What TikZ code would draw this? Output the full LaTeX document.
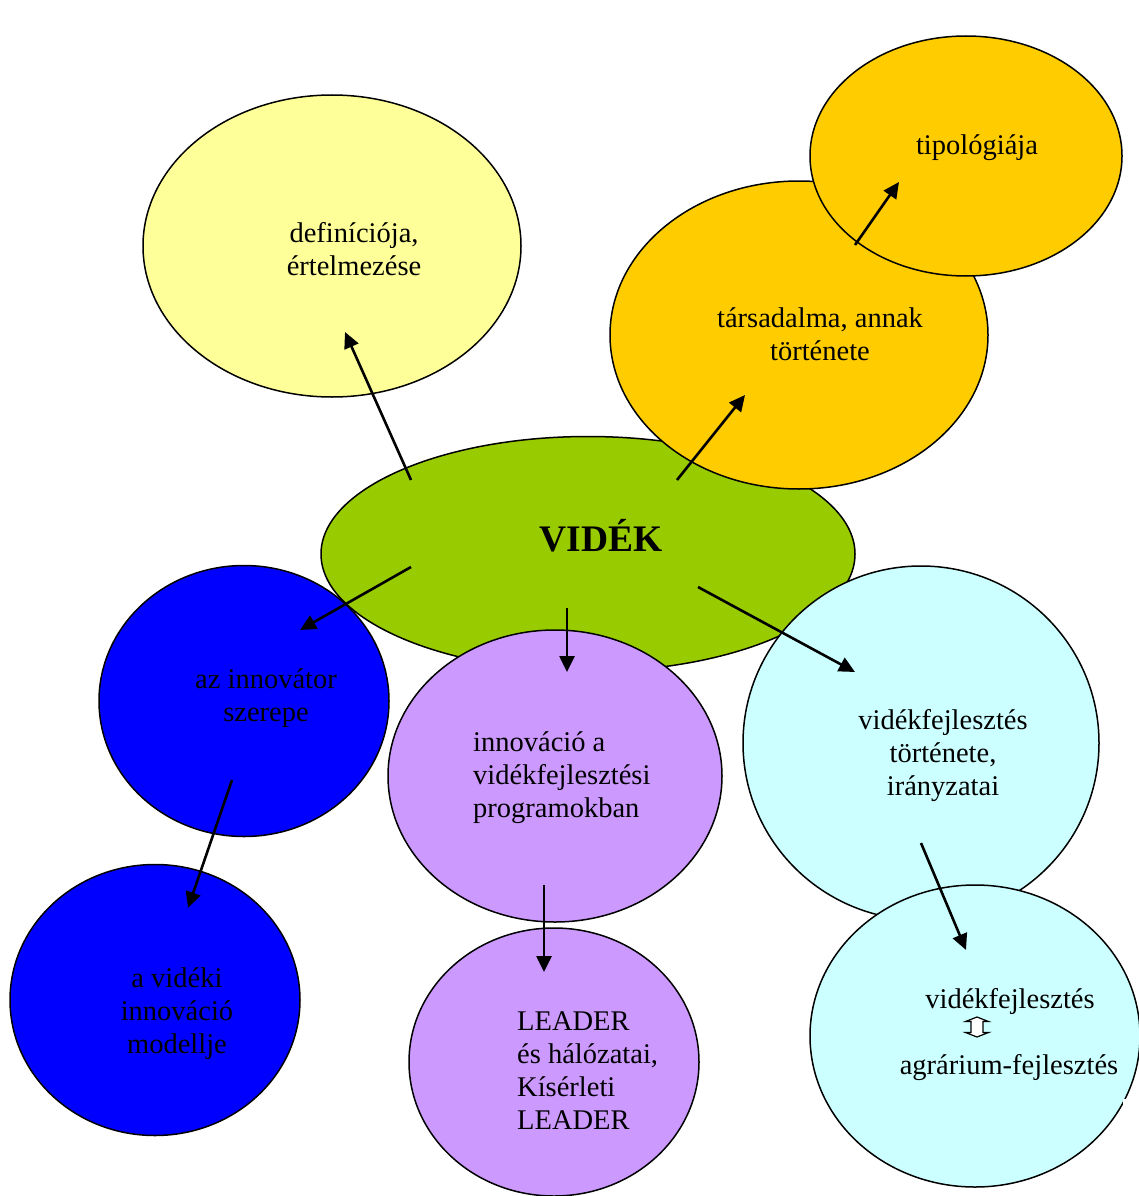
\documentclass[tikz,border=0pt]{standalone}
\usepackage{fontspec}
\setmainfont{Liberation Serif}
\usetikzlibrary{shapes.geometric,arrows.meta}
\definecolor{cyel}{HTML}{FFFF99}
\definecolor{corg}{HTML}{FFCC00}
\definecolor{cgrn}{HTML}{99CC00}
\definecolor{cblu}{HTML}{0000FF}
\definecolor{clil}{HTML}{CC99FF}
\definecolor{ccya}{HTML}{CCFFFF}
\tikzset{
  blob/.style={ellipse, draw=black, line width=1.5pt, inner sep=0pt},
  txt/.style={inner sep=0pt, font=\fontsize{28.5}{33}\selectfont, align=center},
  txtl/.style={inner sep=0pt, font=\fontsize{28.5}{33}\selectfont, align=left, anchor=west},
  conn/.style={line width=2.6pt, -{Triangle[length=16pt,width=15pt]}}
}
\begin{document}
\begin{tikzpicture}[x=1pt,y=-1pt]
\useasboundingbox (0,0) rectangle (1139,1196);
% ellipses
\node[blob, fill=cyel, minimum width=378pt, minimum height=302pt] (def) at (332,246) {};
\node[blob, fill=cgrn, minimum width=534pt, minimum height=235pt] (videk) at (588,554) {};
\node[blob, fill=corg, minimum width=378pt, minimum height=308pt] (tars) at (799,335) {};
\node[blob, fill=corg, minimum width=312pt, minimum height=240pt] (tipo) at (966,156) {};
\node[blob, fill=cblu, minimum width=290pt, minimum height=271pt] (innov) at (244,701) {};
\node[blob, fill=ccya, minimum width=356pt, minimum height=354pt] (tort) at (921,743) {};
\node[blob, fill=clil, minimum width=334pt, minimum height=292pt] (progr) at (555,776) {};
\node[blob, fill=cblu, minimum width=290pt, minimum height=271pt] (modell) at (155,1000) {};
\node[blob, fill=clil, minimum width=290pt, minimum height=268pt] (leader) at (554,1062) {};
\node[blob, fill=ccya, minimum width=330pt, minimum height=302pt] (agrar) at (975,1036) {};
\fill[white] (1123,1099) rectangle (1139,1123);
% texts
\node[txt] (tdef) at (354,249) {definíciója,\\értelmezése};
\node[txt] (ttipo) at (977,148) {tipológiája};
\node[txt] (ttars) at (820,334) {társadalma, annak\\története};
\node[txt, font=\bfseries\fontsize{37.5}{40}\selectfont] (tvidek) at (601,536) {VIDÉK};
\node[txt] (tinnov) at (266,698.5) {az innovátor\\szerepe};
\node[txt] (tmodell) at (177,1014) {a vidéki\\innováció\\modellje};
\node[txtl] (tprogr) at (473,778) {innováció a\\vidékfejlesztési\\programokban};
\node[txt] (ttort) at (943,756) {vidékfejlesztés\\története,\\irányzatai};
\node[txtl] (tleader) at (517,1071) {LEADER\\és hálózatai,\\Kísérleti\\LEADER};
\node[txt] (tagr1) at (1010,1001) {vidékfejlesztés};
\coordinate (dbl) at (977,1027);
\draw[line width=1.2pt, fill=white, line join=miter, shift={(dbl)}]
  (0,-10) -- (11.5,-5.5) -- (6,-5.5) -- (6,5.5) -- (11.5,5.5) -- (0,10)
  -- (-11.5,5.5) -- (-6,5.5) -- (-6,-5.5) -- (-11.5,-5.5) -- cycle;
\node[txt] (tagr2) at (1009,1068) {agrárium-fejlesztés};
% connector endpoints
\coordinate (a1s) at (411,480); \coordinate (a1e) at (345,332);
\coordinate (a2s) at (677,480); \coordinate (a2e) at (745,395);
\coordinate (a3s) at (855,245); \coordinate (a3e) at (899,182);
\coordinate (a4s) at (411,567); \coordinate (a4e) at (300,630);
\coordinate (a5s) at (567,608); \coordinate (a5e) at (567,672);
\coordinate (a6s) at (698,587); \coordinate (a6e) at (855,672);
\coordinate (a7s) at (232,780); \coordinate (a7e) at (188,908);
\coordinate (a8s) at (544,885); \coordinate (a8e) at (544,972);
\coordinate (a9s) at (921,843); \coordinate (a9e) at (966,950);
\draw[conn] (a1s) -- (a1e);
\draw[conn] (a2s) -- (a2e);
\draw[conn] (a3s) -- (a3e);
\draw[conn] (a4s) -- (a4e);
\draw[conn] (a5s) -- (a5e);
\draw[conn] (a6s) -- (a6e);
\draw[conn] (a7s) -- (a7e);
\draw[conn] (a8s) -- (a8e);
\draw[conn] (a9s) -- (a9e);
\end{tikzpicture}
\end{document}
